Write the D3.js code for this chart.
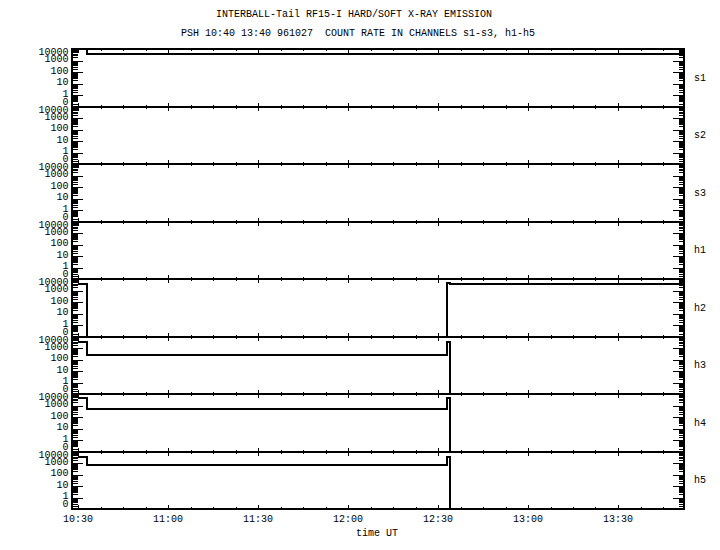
<!DOCTYPE html>
<html><head><meta charset="utf-8">
<script src="https://cdn.jsdelivr.net/npm/d3@7"></script>
<style>
html,body{margin:0;padding:0;background:#fff;}
text{font-family:"Liberation Mono","DejaVu Sans Mono",monospace;font-size:10px;fill:#000;white-space:pre;}
</style></head>
<body>
<script>
// ---- data ----
const titleLines = ["INTERBALL-Tail RF15-I HARD/SOFT X-RAY EMISSION",
                    "PSH 10:40 13:40 961027  COUNT RATE IN CHANNELS s1-s3, h1-h5"];
const channels = ["s1","s2","s3","h1","h2","h3","h4","h5"];
const timeTickLabels = ["10:30","11:00","11:30","12:00","12:30","13:00","13:30"];
const yTickLabels = ["0","1","10","100","1000","10000"];
const yTickValues = [0.1,1,10,100,1000,10000];
const stepTimes = ["10:30","10:33","12:33","12:34","13:52"];
const s1 = [10000, 3500, 3500, 3500, 3500];
const s2 = [0, 0, 0, 0, 0];
const s3 = [0, 0, 0, 0, 0];
const h1 = [0, 0, 0, 0, 0];
const h2 = [3700, 0, 4200, 3500, 3500];
const h3 = [3500, 250, 4000, 0, 0];
const h4 = [4300, 500, 4200, 0, 0];
const h5 = [3700, 740, 3600, 0, 0];
const series = [s1,s2,s3,h1,h2,h3,h4,h5];

// ---- layout ----
const W=720,H=550;
const left=72,right=684,top0=49,bottom=509;
const nP=channels.length, pH=(bottom-top0)/nP;
const toMin = s => {const [h,m]=s.split(":").map(Number);return h*60+m;};

const svg=d3.select("body").append("svg").attr("width",W).attr("height",H);

const x=d3.scaleLinear().domain([toMin("10:28"),toMin("13:52")]).range([left,right]);

svg.append("text").attr("x",354).attr("y",14).attr("text-anchor","middle").attr("dominant-baseline","middle").attr("xml:space","preserve").text(titleLines[0]);
svg.append("text").attr("x",358).attr("y",33).attr("text-anchor","middle").attr("dominant-baseline","middle").attr("xml:space","preserve").text(titleLines[1]);

const majorX=[], minorX=[];
for(let t=toMin("10:30");t<=toMin("13:52");t+=7.5){
  if((t%30)===0) majorX.push(t); else minorX.push(t);
}
const minorY=[];
for(let e=-1;e<4;e++) for(let k=2;k<=9;k++) minorY.push(k*Math.pow(10,e));

channels.forEach((ch,i)=>{
  const pt=Math.round(top0+i*pH), pb=Math.round(top0+(i+1)*pH);
  const y=d3.scaleLog().domain([0.1,10000]).range([pb,pt]).clamp(true);
  const g=svg.append("g");
  const clipId="clip"+i;
  g.append("clipPath").attr("id",clipId).append("rect").attr("x",left).attr("y",pt-1).attr("width",right-left).attr("height",pb-pt+2);

  const tg=g.append("g").attr("stroke","#000").attr("stroke-width",1).attr("shape-rendering","crispEdges");
  yTickValues.forEach(v=>{
    const yy=Math.round(y(v))+0.5;
    tg.append("line").attr("x1",left).attr("x2",left+11).attr("y1",yy).attr("y2",yy);
    tg.append("line").attr("x1",right).attr("x2",right-11).attr("y1",yy).attr("y2",yy);
  });
  minorY.forEach(v=>{
    const yy=Math.round(y(v))+0.5;
    tg.append("line").attr("x1",left).attr("x2",left+6).attr("y1",yy).attr("y2",yy);
    tg.append("line").attr("x1",right).attr("x2",right-5).attr("y1",yy).attr("y2",yy);
  });
  majorX.forEach(t=>{
    const xx=Math.round(x(t))+0.5;
    tg.append("line").attr("x1",xx).attr("x2",xx).attr("y1",pt).attr("y2",pt+4);
    tg.append("line").attr("x1",xx).attr("x2",xx).attr("y1",pb).attr("y2",pb-4);
  });
  minorX.forEach(t=>{
    const xx=Math.round(x(t))+0.5;
    tg.append("line").attr("x1",xx).attr("x2",xx).attr("y1",pt).attr("y2",pt+2);
    tg.append("line").attr("x1",xx).attr("x2",xx).attr("y1",pb).attr("y2",pb-2);
  });

  g.append("rect").attr("x",left).attr("y",pt).attr("width",right-left).attr("height",pb-pt)
    .attr("fill","none").attr("stroke","#000").attr("stroke-width",2).attr("shape-rendering","crispEdges");

  yTickValues.forEach((v,j)=>{
    let yy=y(v)-1;
    if(j===yTickValues.length-1) yy=pt+3.7;
    if(j===0) yy=pb-5;
    g.append("text").attr("x",68.5).attr("y",yy).attr("text-anchor","end")
      .attr("dominant-baseline","middle").text(yTickLabels[j]);
  });
  g.append("text").attr("x",694).attr("y",(pt+pb)/2).attr("dominant-baseline","middle").text(ch);

  const data=stepTimes.map((t,k)=>({t:toMin(t),v:series[i][k]}));
  const line=d3.line().x(d=>x(d.t)).y(d=>y(d.v>0?d.v:0.1)).curve(d3.curveStepAfter);
  g.append("path").datum(data).attr("d",line).attr("fill","none").attr("stroke","#000")
    .attr("stroke-width",2).attr("clip-path","url(#"+clipId+")").attr("shape-rendering","crispEdges");
});

timeTickLabels.forEach(l=>{
  svg.append("text").attr("x",x(toMin(l))).attr("y",519).attr("text-anchor","middle")
    .attr("dominant-baseline","middle").text(l);
});
svg.append("text").attr("x",377).attr("y",533).attr("text-anchor","middle").attr("dominant-baseline","middle").text("time UT");
</script>
</body></html>
